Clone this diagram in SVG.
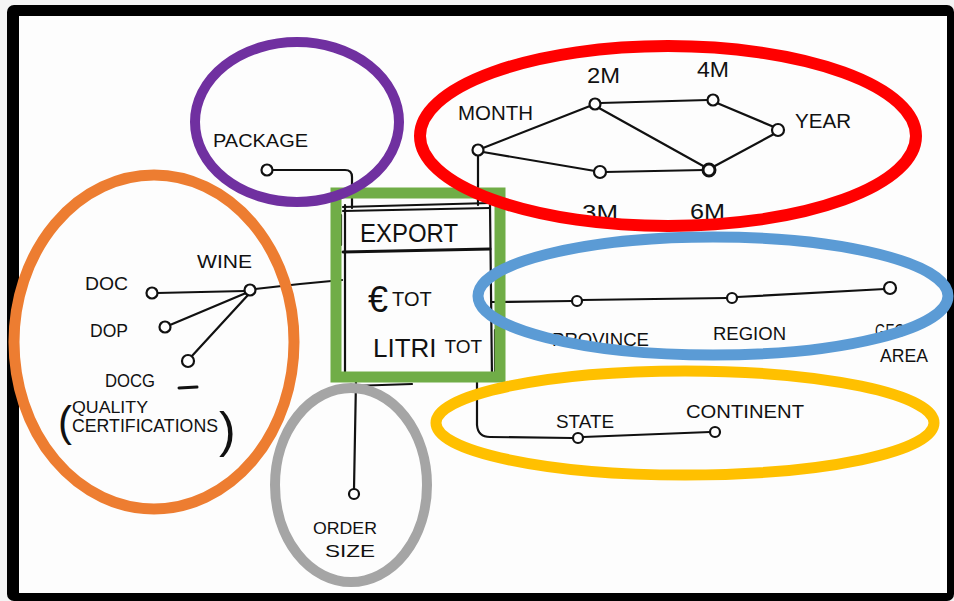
<svg xmlns="http://www.w3.org/2000/svg" width="954" height="601" viewBox="0 0 954 601">
<style>
.t{font-family:"Liberation Sans",Arial,sans-serif;fill:#111}
.ln{fill:none;stroke:#111;stroke-width:2.2;stroke-linecap:round;stroke-linejoin:round}
.nd{fill:#fff;stroke:#111;stroke-width:2.2}
.ring{fill:none}
</style>
<rect x="0" y="0" width="954" height="601" fill="#f4f4f4"/>
<rect x="7" y="5" width="947" height="596" rx="7" fill="#000"/>
<rect x="19" y="16" width="928" height="577" fill="#fdfdfd"/>

<g id="connectors">
<path class="ln" d="M255 289 L300 284 L342 280"/>
<path class="ln" d="M157 293 L245 291"/>
<path class="ln" d="M170 325 L246 293"/>
<path class="ln" d="M191 357 L248 295"/>
<path class="ln" d="M272 170 L345 170 Q352 170 352 177 L352 208"/>
<path class="ln" d="M483 148 L590 106"/>
<path class="ln" d="M483 152 L595 171"/>
<path class="ln" d="M600 103 L708 100"/>
<path class="ln" d="M599 108 L705 167"/>
<path class="ln" d="M605 172 L704 170"/>
<path class="ln" d="M717 103 L774 127"/>
<path class="ln" d="M713 167 L774 134"/>
<path class="ln" d="M478 155 L478 205"/>
<path class="ln" d="M477 378 L477 425 Q478 437 490 437 L572 438"/>
<path class="ln" d="M583 437 L710 432"/>
<path class="ln" d="M492 302 L572 301"/>
<path class="ln" d="M582 300 L727 298"/>
<path class="ln" d="M737 297 L885 289"/>
<path class="ln" d="M356 380 L354 489"/>
</g>

<g id="export">
<path class="ln" d="M343 207 L490 203 M343 211 L490 208"/>
<path class="ln" d="M343 252 L490 249" style="stroke-width:3"/>
<path class="ln" d="M345 205 L345 378 M341 215 L341 245"/>
<path class="ln" d="M490 205 L492 378 M495 330 L495 375"/>
<path class="ln" d="M345 378 L490 376 M352 386 L412 384"/>
<text class="t" x="360" y="242" style="font-size:26px" textLength="98" lengthAdjust="spacingAndGlyphs">EXPORT</text>
<text class="t" x="368" y="312" style="font-size:20px"><tspan style="font-size:36px">€</tspan><tspan dx="4" dy="-6">TOT</tspan></text>
<text class="t" x="373" y="357" style="font-size:26px"><tspan>LITRI</tspan><tspan style="font-size:19px" dx="8" dy="-4">TOT</tspan></text>
</g>

<g id="package">
<circle class="nd" cx="267" cy="170" r="5.5"/>
<text class="t" x="213" y="147" style="font-size:18px" textLength="95" lengthAdjust="spacingAndGlyphs">PACKAGE</text>
</g>

<g id="wine">
<circle class="nd" cx="250" cy="290" r="5.5"/>
<text class="t" x="197" y="268" style="font-size:18px" textLength="55" lengthAdjust="spacingAndGlyphs">WINE</text>
</g>
<g id="doc">
<circle class="nd" cx="152" cy="293" r="5.5"/>
<text class="t" x="85" y="290" style="font-size:18px" textLength="43" lengthAdjust="spacingAndGlyphs">DOC</text>
</g>
<g id="dop">
<circle class="nd" cx="165" cy="327" r="5.5"/>
<text class="t" x="90" y="337" style="font-size:18px" textLength="38" lengthAdjust="spacingAndGlyphs">DOP</text>
</g>
<g id="docg">
<circle class="nd" cx="188" cy="361" r="6"/>
<text class="t" x="105" y="387" style="font-size:18px" textLength="50" lengthAdjust="spacingAndGlyphs">DOCG</text>
<path class="ln" d="M179 388 L197 387" style="stroke-width:3"/>
</g>
<g id="quality">
<text class="t" x="58" y="436" style="font-size:42px;font-weight:300">(</text>
<text class="t" x="72" y="413" style="font-size:16px" textLength="76" lengthAdjust="spacingAndGlyphs">QUALITY</text>
<text class="t" x="72" y="432" style="font-size:18px" textLength="146" lengthAdjust="spacingAndGlyphs">CERTIFICATIONS</text>
<text class="t" x="219" y="447" style="font-size:50px;font-weight:300">)</text>
</g>

<g id="month">
<circle class="nd" cx="478" cy="150" r="5.5"/>
<text class="t" x="458" y="120" style="font-size:20px" textLength="75" lengthAdjust="spacingAndGlyphs">MONTH</text>
</g>
<g id="m2">
<circle class="nd" cx="595" cy="104" r="5.5"/>
<text class="t" x="587" y="83" style="font-size:22px" textLength="33" lengthAdjust="spacingAndGlyphs">2M</text>
</g>
<g id="m4">
<circle class="nd" cx="713" cy="100" r="5.5"/>
<text class="t" x="697" y="77" style="font-size:22px" textLength="32" lengthAdjust="spacingAndGlyphs">4M</text>
</g>
<g id="year">
<circle class="nd" cx="778" cy="130" r="6"/>
<text class="t" x="795" y="128" style="font-size:20px" textLength="56" lengthAdjust="spacingAndGlyphs">YEAR</text>
</g>
<g id="m3">
<circle class="nd" cx="600" cy="172" r="6"/>
<text class="t" x="582" y="220" style="font-size:22px" textLength="36" lengthAdjust="spacingAndGlyphs">3M</text>
</g>
<g id="m6">
<circle class="nd" cx="709" cy="170" r="6" style="stroke-width:3"/>
<text class="t" x="690" y="219" style="font-size:22px" textLength="35" lengthAdjust="spacingAndGlyphs">6M</text>
</g>

<g id="province">
<circle class="nd" cx="577" cy="301" r="5"/>
<text class="t" x="552" y="346" style="font-size:18px" textLength="97" lengthAdjust="spacingAndGlyphs">PROVINCE</text>
</g>
<g id="region">
<circle class="nd" cx="732" cy="298" r="5"/>
<text class="t" x="713" y="340" style="font-size:18px" textLength="73" lengthAdjust="spacingAndGlyphs">REGION</text>
</g>
<g id="geoarea">
<circle class="nd" cx="890" cy="288" r="6"/>
<text class="t" x="875" y="337" style="font-size:18px" textLength="30" lengthAdjust="spacingAndGlyphs">GEO</text>
<text class="t" x="880" y="362" style="font-size:18px" textLength="48" lengthAdjust="spacingAndGlyphs">AREA</text>
</g>
<g id="state">
<circle class="nd" cx="578" cy="438" r="5"/>
<text class="t" x="556" y="428" style="font-size:18px" textLength="58" lengthAdjust="spacingAndGlyphs">STATE</text>
</g>
<g id="continent">
<circle class="nd" cx="715" cy="432" r="5"/>
<text class="t" x="686" y="418" style="font-size:18px" textLength="118" lengthAdjust="spacingAndGlyphs">CONTINENT</text>
</g>
<g id="ordersize">
<circle class="nd" cx="354" cy="494" r="5"/>
<text class="t" x="313" y="534" style="font-size:17px" textLength="64" lengthAdjust="spacingAndGlyphs">ORDER</text>
<text class="t" x="325" y="557" style="font-size:17px" textLength="50" lengthAdjust="spacingAndGlyphs">SIZE</text>
</g>

<g id="groups">
<rect id="fact" x="336" y="193" width="164" height="184" class="ring" stroke="#70AD47" stroke-width="11"/>
<ellipse id="g-package" cx="297" cy="122" rx="102" ry="80" class="ring" stroke="#7030A0" stroke-width="10"/>
<ellipse id="g-time" cx="668" cy="136" rx="248" ry="90" class="ring" stroke="#FF0000" stroke-width="12"/>
<ellipse id="g-wine" cx="154" cy="342" rx="140" ry="167" class="ring" stroke="#ED7D31" stroke-width="11"/>
<ellipse id="g-geo" cx="713" cy="296" rx="235" ry="59" class="ring" stroke="#5B9BD5" stroke-width="11"/>
<ellipse id="g-state" cx="685" cy="423" rx="249" ry="52" class="ring" stroke="#FFC000" stroke-width="11"/>
<ellipse id="g-order" cx="351" cy="485" rx="76" ry="97" class="ring" stroke="#A5A5A5" stroke-width="10"/>
</g>
</svg>
